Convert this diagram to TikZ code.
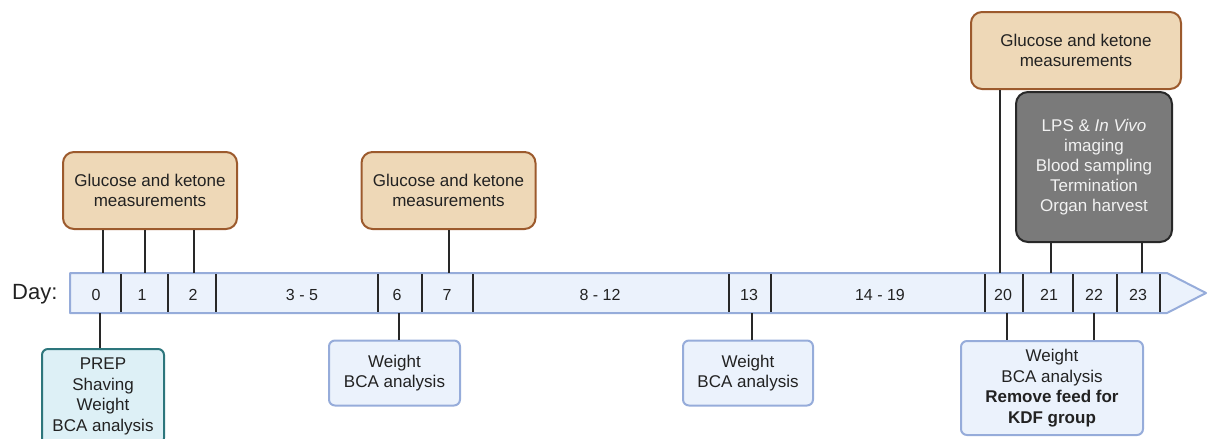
\documentclass[tikz,border=0pt]{standalone}
\usepackage{fontspec}
\setmainfont{Liberation Sans}
\definecolor{tanfill}{RGB}{238,216,183}
\definecolor{tanline}{RGB}{156,90,45}
\definecolor{bluefill}{RGB}{235,242,252}
\definecolor{blueline}{RGB}{150,172,218}
\definecolor{cyanfill}{RGB}{221,240,246}
\definecolor{cyanline}{RGB}{45,118,124}
\definecolor{darkfill}{RGB}{122,122,122}
\definecolor{darkline}{RGB}{40,40,40}
\definecolor{txt}{RGB}{34,34,34}
\tikzset{
  basebox/.style={draw, line width=2pt, align=center, inner sep=0pt, text=txt,
    font=\fontsize{17}{20.5}\selectfont},
  tanbox/.style={basebox, fill=tanfill, draw=tanline, rounded corners=11pt},
  bluebox/.style={basebox, fill=bluefill, draw=blueline, rounded corners=6pt},
  cyanbox/.style={basebox, fill=cyanfill, draw=cyanline, rounded corners=6pt},
  darkbox/.style={basebox, fill=darkfill, draw=darkline, rounded corners=12pt, text={rgb,255:red,242;green,242;blue,242}},
  barstyle/.style={fill=bluefill, draw=blueline, line width=2pt, line join=round},
  divider/.style={draw=darkline, line width=2.8pt},
  conn/.style={draw=darkline, line width=2.4pt},
  daylab/.style={text=txt, font=\fontsize{16}{18}\selectfont, inner sep=0pt},
}
\begin{document}
\begin{tikzpicture}[x=1pt,y=-1pt]
\useasboundingbox (0,0) rectangle (1208,439);
% timeline bar
\draw[barstyle] (70,273) -- (1167,273) -- (1206,293) -- (1167,313) -- (70,313) -- cycle;
\foreach \x/\n in {121/a,168/b,216/c,378/d,422/e,473/f,729/g,771/h,985/i,1023/j,1073/k,1117/l,1160/m}{
  \coordinate (dt\n) at (\x,274);
  \coordinate (db\n) at (\x,312);
  \draw[divider] (dt\n) -- (db\n);
}
\node[text=txt, font=\fontsize{22}{24}\selectfont, anchor=west, inner sep=0pt] (day) at (12,294) {Day:};
\foreach \x/\t/\n in {96/0/d0,142/1/d1,193/2/d2,302/3 - 5/d35,397/6/d6,447/7/d7,600/8 - 12/d812,749/13/d13,880/14 - 19/d1419,1003/20/d20,1049/21/d21,1094/22/d22,1138/23/d23}{
  \node[daylab] (\n) at (\x,295) {\t};
}
% top boxes
\node[tanbox, minimum width=174pt, minimum height=77pt] (g1) at (150,190.5) {Glucose and ketone\\measurements};
\node[tanbox, minimum width=174pt, minimum height=77pt] (g2) at (448.5,190.5) {Glucose and ketone\\measurements};
\node[tanbox, minimum width=210pt, minimum height=77pt] (g3) at (1076,50.5) {Glucose and ketone\\measurements};
\node[darkbox, minimum width=156pt, minimum height=150pt, font=\fontsize{17}{20}\selectfont] (lps) at (1094,167) {LPS \& \textit{In Vivo}\\imaging\\Blood sampling\\Termination\\Organ harvest};
% bottom boxes
\node[cyanbox, minimum width=122pt, minimum height=95pt, anchor=north] (prep) at (103,348) {PREP\\Shaving\\Weight\\BCA analysis};
\node[bluebox, minimum width=131pt, minimum height=65pt] (w6) at (394.5,373) {Weight\\BCA analysis};
\node[bluebox, minimum width=130pt, minimum height=65pt] (w13) at (748,373) {Weight\\BCA analysis};
\node[bluebox, minimum width=182pt, minimum height=94pt] (w20) at (1052,388) {Weight\\BCA analysis\\\textbf{Remove feed for}\\\textbf{KDF group}};
% connector anchor points on the bar
\foreach \x/\n in {103/t0,145/t1,194/t2,449/t7,1000/t20,1051/t21,1142/t23}{
  \coordinate (\n) at (\x,273);
}
\foreach \x/\n in {100/b0,399/b6,752/b13,1007/b20,1094/b22}{
  \coordinate (\n) at (\x,313);
}
\draw[conn] (t0 |- g1.south) -- (t0);
\draw[conn] (t1 |- g1.south) -- (t1);
\draw[conn] (t2 |- g1.south) -- (t2);
\draw[conn] (t7 |- g2.south) -- (t7);
\draw[conn] (t20 |- g3.south) -- (t20);
\draw[conn] (t21 |- lps.south) -- (t21);
\draw[conn] (t23 |- lps.south) -- (t23);
\draw[conn] (b0) -- (b0 |- prep.north);
\draw[conn] (b6) -- (b6 |- w6.north);
\draw[conn] (b13) -- (b13 |- w13.north);
\draw[conn] (b20) -- (b20 |- w20.north);
\draw[conn] (b22) -- (b22 |- w20.north);
\end{tikzpicture}
\end{document}
